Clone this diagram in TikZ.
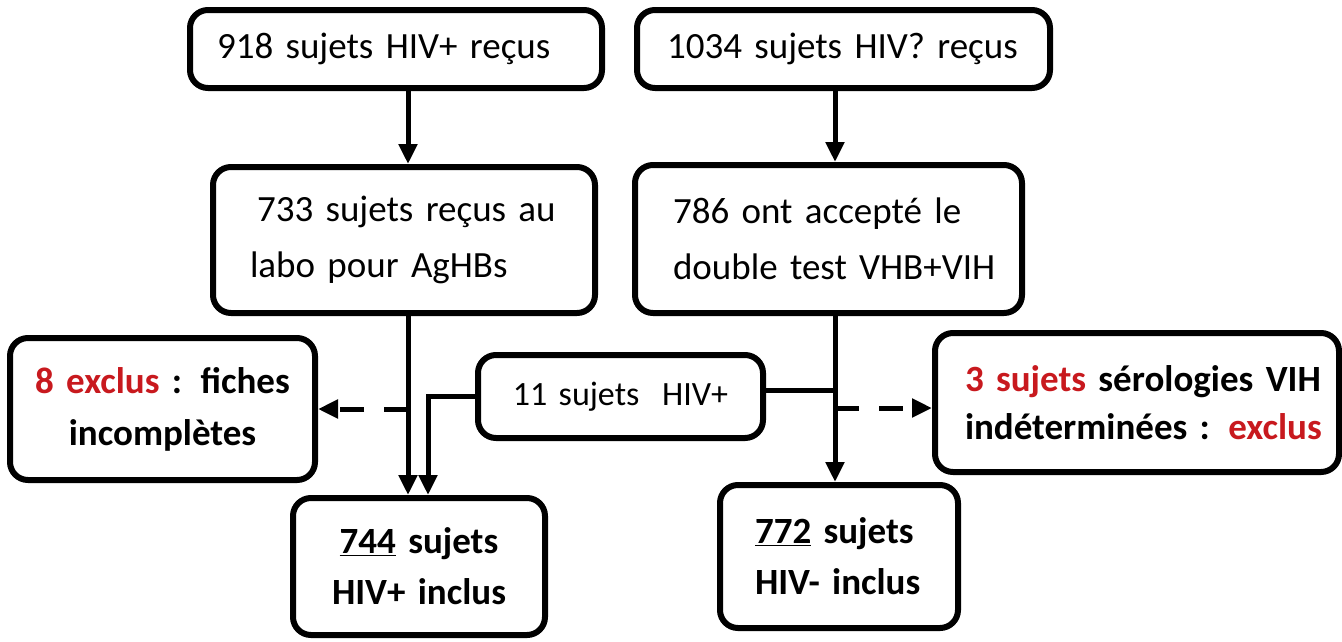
\documentclass[tikz,border=0pt]{standalone}
\usepackage{fontspec}
\setmainfont{Carlito}
\usetikzlibrary{arrows.meta}
\definecolor{exred}{RGB}{200,25,30}
\newcommand{\fsz}[2]{\fontsize{#1}{#2}\selectfont\spaceskip=0.16em\relax}
\tikzset{
  box/.style={draw, line width=6pt, rounded corners=18pt, inner ysep=0pt,
    font=\fsz{37}{52}},
  conn/.style={line width=5pt},
  arr/.style={conn, -{Triangle[width=18pt,length=20pt]}},
  darr/.style={conn, dash pattern=on 24pt off 20pt, -{Triangle[width=18pt,length=20pt]}},
}
\begin{document}
\begin{tikzpicture}[x=1pt,y=-1pt]
\useasboundingbox[fill=white] (0,0) rectangle (1342,641);

\node[box, minimum width=412pt, minimum height=78pt, inner xsep=27pt, text width=358pt, align=left]
  (A) at (396,49) {918 sujets HIV+ reçus};
\node[box, minimum width=413pt, minimum height=78pt, inner xsep=30pt, text width=353pt, align=left]
  (B) at (843.5,49) {1034 sujets HIV? reçus};
\node[box, minimum width=382pt, minimum height=146pt, inner xsep=37pt, text width=308pt, align=left,
  font=\fsz{37}{56}]
  (C) at (404,240) {\mbox{\hspace*{7pt}733 sujets reçus au}\\\mbox{labo pour AgHBs}};
\node[box, minimum width=387pt, minimum height=148pt, inner xsep=38pt, text width=311pt, align=left,
  font=\fsz{37}{56}]
  (D) at (828.5,239) {\mbox{786 ont accepté le}\\\mbox{double test VHB+VIH}};
\node[box, minimum width=305pt, minimum height=142pt, inner xsep=10pt, text width=285pt, align=center,
  font=\bfseries\fsz{37}{52}]
  (E) at (162.5,409) {{\color{exred}8 exclus} : fiches\\incomplètes};
\node[box, minimum width=285pt, minimum height=83pt, inner xsep=10pt, text width=265pt, align=center,
  font=\fsz{34}{44}]
  (F) at (620.5,396.5) {11 sujets\ \ HIV+};
\node[box, minimum width=404pt, minimum height=139pt, inner xsep=30pt, text width=344pt, align=left,
  font=\bfseries\fsz{37}{48}]
  (G) at (1137,402.5) {\mbox{{\color{exred}3 sujets} sérologies VIH}\\\mbox{indéterminées : {\color{exred}exclus}}};
\node[box, minimum width=252pt, minimum height=137pt, inner xsep=10pt, text width=232pt, align=center,
  font=\bfseries\fsz{37}{51}]
  (H) at (419,566.5) {\underline{744} sujets\\HIV+ inclus};
\node[box, minimum width=238pt, minimum height=143pt, inner xsep=35pt, text width=168pt, align=left,
  font=\bfseries\fsz{37}{51}]
  (I) at (839,556.5) {\mbox{\underline{772} sujets}\\\mbox{HIV- inclus}};

\coordinate (xl) at (408,0);
\coordinate (xl2) at (428,0);
\coordinate (xr) at (835,0);
\coordinate (fr) at ([yshift=6.5pt]F.east);
\coordinate (gw) at ([yshift=-5.5pt]G.west);

\draw[arr] (xl |- A.south) -- (xl |- C.north);
\draw[arr] (xr |- B.south) -- (xr |- D.north);
\draw[arr] (xl |- C.south) -- (xl |- H.north);
\draw[arr] (xr |- D.south) -- (xr |- I.north);
\draw[arr] (F.west) -| (xl2 |- H.north);
\draw[conn] (fr) -- (xr |- fr);
\draw[darr] (xl |- E.east) -- (E.east);
\draw[darr] (xr |- gw) -- (gw);
\end{tikzpicture}
\end{document}
